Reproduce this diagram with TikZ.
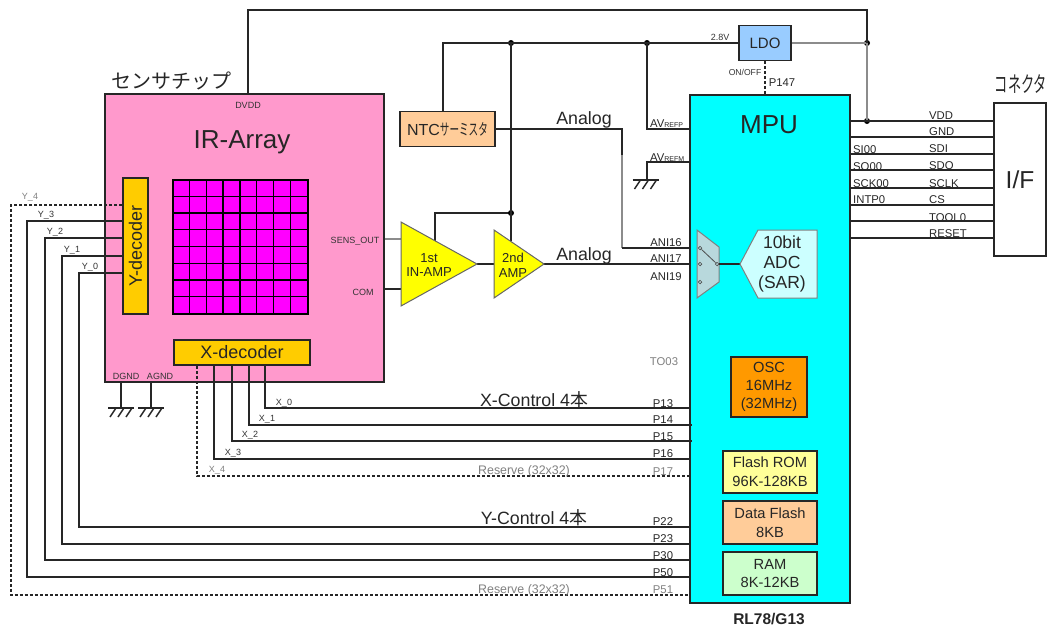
\documentclass[tikz,border=0pt]{standalone}
\usepackage{fontspec}
\usepackage{graphicx}
\setmainfont{Liberation Sans}
\newfontfamily\cjk{Noto Sans CJK JP}
\newdimen\fsbase
\newcommand{\fs}[1]{\fsbase=#1pt\fsbase=1.15\fsbase\fontsize{#1}{\the\fsbase}\selectfont}
\definecolor{txtgray}{HTML}{808080}
\definecolor{wiregray}{HTML}{8C8C8C}
\definecolor{mpucyan}{HTML}{00FFFF}
\definecolor{pixmag}{HTML}{FF00FF}
\definecolor{chippink}{HTML}{FF99CC}
\definecolor{decgold}{HTML}{FFCC00}
\definecolor{ampyellow}{HTML}{FFFF00}
\definecolor{ldoblue}{HTML}{99CCFF}
\definecolor{peach}{HTML}{FFCC99}
\definecolor{oscor}{HTML}{FF9900}
\definecolor{romy}{HTML}{FFFF99}
\definecolor{ramg}{HTML}{CCFFCC}
\definecolor{muxc}{HTML}{B8D8DC}
\definecolor{adcc}{HTML}{CCFFFF}
\tikzset{
  wire/.style={line width=1.3pt,draw=black!85},
  grayw/.style={line width=1.4pt,draw=wiregray},
  dashw/.style={line width=1.2pt,draw=black!85,dash pattern=on 3pt off 2pt},
  blk/.style={draw=black!85,line width=1.5pt,inner sep=0pt,align=center,text=black!85},
  lbl/.style={inner sep=0pt,font=\fs{9},text=black!80},
  pin/.style={inner sep=0pt,font=\fs{11.3},text=black!85},
  gpin/.style={inner sep=0pt,font=\fs{11.3},text=txtgray},
  glbl/.style={inner sep=0pt,font=\fs{9},text=txtgray},
  big/.style={inner sep=0pt,font=\fs{17.8},text=black!85},
  dot/.style={circle,fill=black,inner sep=0pt,minimum size=6pt},
  amp/.style={draw=black!60,line width=1pt,fill=ampyellow},
  ringp/.style={circle,draw=black!70,line width=.7pt,inner sep=0pt,minimum size=3.5pt},
  gnd/.pic={
    \draw[line width=1.4pt,draw=black!85] (-13,0) -- (13,0);
    \foreach \d in {-5,3,11}{\draw[line width=1.5pt,draw=black!85] (\d,0) -- (\d-6,9);}
  }
}
\begin{document}
\begin{tikzpicture}[x=1pt,y=-1pt]
\useasboundingbox (0,0) rectangle (1047,630);

% main blocks
\node[blk,minimum width=279pt,minimum height=288pt,fill=chippink] (chip) at (244.5,238) {};
\node[blk,minimum width=160pt,minimum height=508pt,fill=mpucyan] (mpu) at (770,349) {};
\node[blk,minimum width=52pt,minimum height=153pt,fill=white,font=\fs{24.5}] (if) at (1020,179.5) {I/F};
\node[blk,minimum width=52pt,minimum height=35pt,fill=ldoblue,font=\fs{15}] (ldo) at (765,43) {LDO};
\node[blk,minimum width=95pt,minimum height=35pt,fill=peach,font=\fs{16}] (ntc) at (447.5,129) {NTC{\cjk\scalebox{.6}[1]{サーミスタ}}};

% sensor internals
\node[blk,minimum width=25pt,minimum height=136pt,fill=decgold] (ydec) at (135.5,246) {\rotatebox{90}{\fs{18}Y-decoder}};
\node[blk,minimum width=136pt,minimum height=25pt,fill=decgold,font=\fs{18}] (xdec) at (242,352.5) {X-decoder};
\node[draw=black,line width=1.2pt,fill=pixmag,minimum width=135pt,minimum height=134pt,inner sep=0pt] (array) at (240.5,247) {};
\foreach \i in {1,...,7}{
  \draw[line width=1.2pt,draw=black] ([xshift=\i*16.875pt]array.north west) -- ([xshift=\i*16.875pt]array.south west);
  \draw[line width=1.2pt,draw=black] ([yshift=-\i*16.75pt]array.north west) -- ([yshift=-\i*16.75pt]array.north east);
}
\node[big,font=\fs{26}] (irt) at (242,142) {IR-Array};
\node[lbl] (dvdd) at (248,105) {DVDD};
\node[lbl] (sens) at (355,241) {SENS\_OUT};
\node[lbl] (com) at (363,292) {COM};
\node[lbl] (dgnd) at (126,376) {DGND};
\node[lbl] (agnd) at (160,376) {AGND};
\node[inner sep=0pt,text=black!85] (chipt) at (171,81) {\cjk\fs{20}センサチップ};
\node[inner sep=0pt,text=black!85] (cont) at (1021,84) {\cjk\fs{22}\scalebox{.6}[1]{コネクタ}};

% memory blocks
\node[blk,minimum width=76pt,minimum height=60pt,fill=oscor,font=\fs{14.7}] (osc) at (769,387) {OSC\\[1pt]16MHz\\[1pt](32MHz)};
\node[blk,minimum width=94pt,minimum height=42pt,fill=romy,font=\fs{14.7}] (rom) at (770,472) {Flash ROM\\[2pt]96K-128KB};
\node[blk,minimum width=94pt,minimum height=43pt,fill=peach,font=\fs{14.7}] (dflash) at (770,522.5) {Data Flash\\[2pt]8KB};
\node[blk,minimum width=94pt,minimum height=43pt,fill=ramg,font=\fs{14.7}] (ram) at (770,573.5) {RAM\\[2pt]8K-12KB};
\node[inner sep=0pt,text=black!85] (rl) at (769,619) {\fs{15.5}\bfseries RL78/G13};
\node[big,font=\fs{26}] (mput) at (769,125) {MPU};

% amplifiers
\draw[grayw] (chip.east |- 0,239) coordinate (sensp) -- (401,239) coordinate (in1a);
\draw[wire] (chip.east |- 0,289) coordinate (comp) -- (401,289) coordinate (in1b);
\coordinate (v1) at (435,241);
\coordinate (v2) at (511,241);
\coordinate (a1o) at (477,264);
\coordinate (a2i) at (494,264);
\coordinate (a2o) at (544,264);
\draw[wire] (v1) |- (511,213) node[dot] (j3) {};
\draw[wire] (a1o) -- (a2i);

% power rails
\node[dot] (j1) at (511,43) {};
\node[dot] (j2) at (647,43) {};
\node[dot] (j4) at (867,43) {};
\node[dot] (j5) at (867,121) {};
\draw[wire] (ntc.north -| 443,0) |- (j1.center) -- (j2.center) -- (ldo.west);
\draw[grayw] (ldo.east) -- (j4.center);
\draw[wire] (j1.center) -- (v2);
\coordinate (dv) at (248,94);
\draw[wire] (dv) |- (867,10) coordinate (tr) -- (j4.center);
\draw[grayw] (j4.center) -- (j5.center);
\draw[dashw] (ldo.south) -- (ldo.south |- mpu.north);
\draw[wire] (j2.center) |- (mpu.west |- 0,129) coordinate (avp);
\draw[wire] (mpu.west |- 0,162) coordinate (avm) -| (647,180);
\pic at (645.5,180) {gnd};

% analog
\draw[wire] (ntc.east) -| (622,155) coordinate (kn);
\draw[grayw] (kn) -- (622,248) coordinate (kn2);
\draw[wire] (kn2) -- (mpu.west |- 0,248) coordinate (ani16);
\draw[wire] (a2o) -- (mpu.west |- 0,264) coordinate (ani17);

\draw[amp] (401,222) -- (477,264) -- (401,306) -- cycle;
\draw[amp] (494,230) -- (544,264) -- (494,298) -- cycle;
\node[inner sep=0pt,align=center,font=\fs{13},text=black!85] (t1) at (429,265) {1st\\IN-AMP};
\node[inner sep=0pt,align=center,font=\fs{13},text=black!85] (t2) at (513,265) {2nd\\AMP};

% mux + adc
\draw[draw=gray,line width=1pt,fill=muxc] (697,230) -- (719,247) -- (719,282) -- (697,298) -- cycle;
\node[ringp] (m1) at (700,248) {};
\node[ringp] (m2) at (700,264) {};
\node[ringp] (m3) at (700,282) {};
\node[ringp] (m4) at (717,264) {};
\draw[line width=.8pt,draw=black!70] (m1) -- (m4);
\coordinate (adcw) at (740,264);
\draw[wire] (m4) -- (adcw);
\draw[draw=gray,line width=1pt,fill=adcc] (740,264) -- (758,230) -- (817,230) -- (817,298) -- (758,298) -- cycle;
\node[inner sep=0pt,align=center,font=\fs{17.5},text=black!85] (adct) at (782,264) {10bit\\ADC\\(SAR)};

% grounds on chip
\coordinate (dg) at (121,408);
\coordinate (ag) at (151,408);
\draw[wire] (chip.south -| dg) -- (dg);
\draw[wire] (chip.south -| ag) -- (ag);
\pic at (dg) {gnd};
\pic at (ag) {gnd};

% Y control
\draw[dashw] (ydec.west |- 0,205) -- (11,205) |- (mpu.west |- 0,595);
\draw[wire] (ydec.west |- 0,221) -- (27,221) |- (mpu.west |- 0,577);
\draw[wire] (ydec.west |- 0,238) -- (45,238) |- (mpu.west |- 0,560);
\draw[wire] (ydec.west |- 0,256) -- (62,256) |- (mpu.west |- 0,544);
\draw[wire] (ydec.west |- 0,273) -- (79,273) |- (mpu.west |- 0,527);

% X control
\draw[dashw] (xdec.south -| 197,0) |- (mpu.west |- 0,476);
\draw[wire] (xdec.south -| 214,0) |- (mpu.west |- 0,459);
\draw[wire] (xdec.south -| 232,0) |- ([xshift=3pt]mpu.west |- 0,441);
\draw[wire] (xdec.south -| 249,0) |- ([xshift=3pt]mpu.west |- 0,425);
\draw[wire] (xdec.south -| 265,0) |- (mpu.west |- 0,408);

% interface lines
\foreach \y in {121,137,154,170,188,205,221,238}{
  \draw[wire] (mpu.east |- 0,\y) -- (if.west |- 0,\y);
}

% labels
\node[glbl] (ly4) at (30,197) {Y\_4};
\node[lbl] (ly3) at (46,215) {Y\_3};
\node[lbl] (ly2) at (55,232) {Y\_2};
\node[lbl] (ly1) at (72,250) {Y\_1};
\node[lbl] (ly0) at (90,267) {Y\_0};
\node[lbl] (lx0) at (284,403) {X\_0};
\node[lbl] (lx1) at (267,419) {X\_1};
\node[lbl] (lx2) at (250,435) {X\_2};
\node[lbl] (lx3) at (233,453) {X\_3};
\node[glbl] (lx4) at (217,470) {X\_4};
\node[big] (an1) at (584,120) {Analog};
\node[big] (an2) at (584,256) {Analog};
\node[lbl] (v28) at (720,37) {2.8V};
\node[lbl,font=\fs{8.6}] (onoff) at (745,72) {ON/OFF};
\node[pin] (p147) at (782,83) {P147};
\node[pin,anchor=west] (lavp) at (650,124) {AV{\fs{7}REFP}};
\node[pin,anchor=west] (lavm) at (650,158) {AV{\fs{7}REFM}};
\node[pin] (la16) at (666,243) {ANI16};
\node[pin] (la17) at (666,259) {ANI17};
\node[pin] (la19) at (666,277) {ANI19};
\node[gpin] (lto) at (664,362) {TO03};
\node[big] (xc) at (534,400) {X-Control 4{\cjk 本}};
\node[big] (yc) at (534,518) {Y-Control 4{\cjk 本}};
\node[pin] (p13) at (663,404) {P13};
\node[pin] (p14) at (663,420) {P14};
\node[pin] (p15) at (663,437) {P15};
\node[pin] (p16) at (663,454) {P16};
\node[gpin] (p17) at (663,472) {P17};
\node[pin] (p22) at (663,522) {P22};
\node[pin] (p23) at (663,539) {P23};
\node[pin] (p30) at (663,556) {P30};
\node[pin] (p50) at (663,573) {P50};
\node[gpin] (p51) at (663,590) {P51};
\node[gpin,font=\fs{12.4}] (r1) at (524,471) {Reserve (32x32)};
\node[gpin,font=\fs{12.4}] (r2) at (524,590) {Reserve (32x32)};
\node[pin,anchor=west] (lsi) at (853,150) {SI00};
\node[pin,anchor=west] (lso) at (853,167) {SO00};
\node[pin,anchor=west] (lsck) at (853,184) {SCK00};
\node[pin,anchor=west] (lint) at (853,200) {INTP0};
\node[pin,anchor=west] (lvdd) at (929,116) {VDD};
\node[pin,anchor=west] (lgnd) at (929,132) {GND};
\node[pin,anchor=west] (lsdi) at (929,149) {SDI};
\node[pin,anchor=west] (lsdo) at (929,166) {SDO};
\node[pin,anchor=west] (lsclk) at (929,184) {SCLK};
\node[pin,anchor=west] (lcs) at (929,200) {CS};
\node[pin,anchor=west] (ltool) at (929,218) {TOOL0};
\node[pin,anchor=west] (lrst) at (929,234) {RESET};
\end{tikzpicture}
\end{document}
